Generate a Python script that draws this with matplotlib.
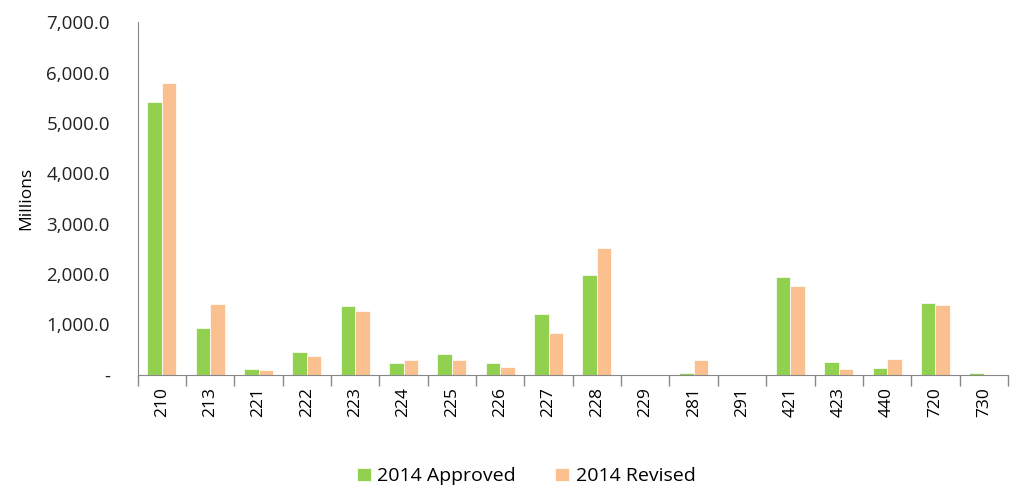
import numpy as np
import matplotlib.pyplot as plt
from matplotlib.ticker import FuncFormatter, FixedLocator

categories = ['210', '213', '221', '222', '223', '224', '225', '226', '227',
              '228', '229', '281', '291', '421', '423', '440', '720', '730']
approved = [5420, 920, 110, 455, 1360, 230, 405, 230, 1205,
            1980, 0, 40, 0, 1940, 250, 130, 1420, 40]
revised = [5800, 1400, 90, 365, 1265, 285, 285, 150, 825,
           2515, 0, 285, 0, 1765, 110, 305, 1380, 0]

plt.rcParams['font.family'] = ['Open Sans', 'DejaVu Sans']

fig = plt.figure(figsize=(10.12, 4.88), dpi=100)
ax = fig.add_axes([0.136, 0.232, 0.86, 0.722])

x = np.arange(len(categories))
w = 0.3
ax.bar(x - w / 2, approved, w, color='#92D050', edgecolor='white', linewidth=0.5, label='2014 Approved')
ax.bar(x + w / 2, revised, w, color='#FAC090', edgecolor='white', linewidth=0.5, label='2014 Revised')

ax.set_xlim(-0.5, len(categories) - 0.5)
ax.set_ylim(0, 7000)
ax.set_yticks(np.arange(0, 7001, 1000))
ax.yaxis.set_major_formatter(FuncFormatter(lambda v, p: '-' if v == 0 else f'{v:,.1f}'))
ax.tick_params(axis='y', length=0, labelsize=13.5, pad=20, colors='#222222')

ax.set_xticks(x)
ax.set_xticklabels(categories, rotation=90, fontsize=12.5)
ax.tick_params(axis='x', which='major', length=0, pad=9)
ax.xaxis.set_minor_locator(FixedLocator(np.arange(-0.5, len(categories), 1)))
ax.tick_params(axis='x', which='minor', length=8, color='#888888', width=1)

for s in ['top', 'right']:
    ax.spines[s].set_visible(False)
ax.spines['left'].set_color('#888888')
ax.spines['bottom'].set_color('#888888')

ax.set_ylabel('Millions', fontsize=12.5, labelpad=9)

fig.legend(loc='lower center', bbox_to_anchor=(0.52, -0.03), ncol=2, frameon=False,
           fontsize=14, handlelength=0.7, handleheight=0.7, columnspacing=2.0, handletextpad=0.35)

fig.savefig('out.png', dpi=100)
